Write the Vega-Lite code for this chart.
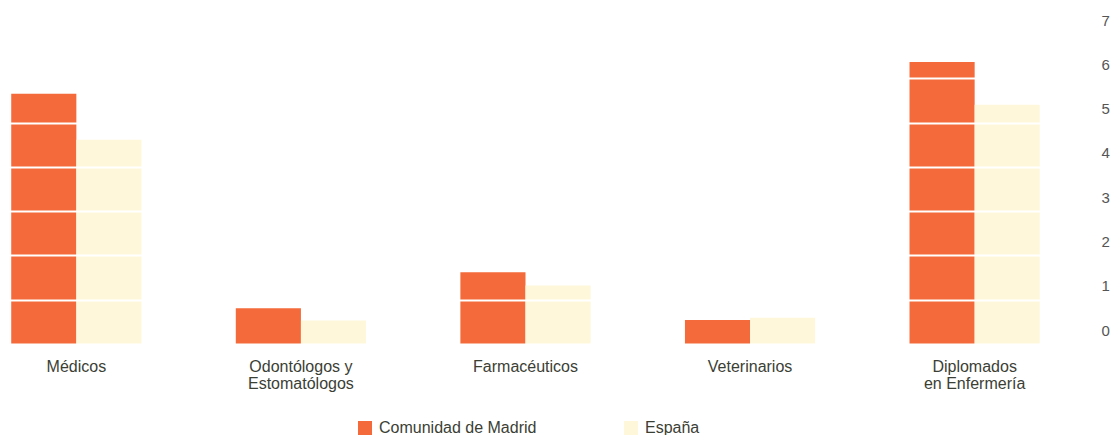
{
  "$schema": "https://vega.github.io/schema/vega-lite/v6.json",
  "autosize": {"type": "none"},
  "padding": {"left": 0, "top": 34, "right": 61, "bottom": 91},
  "width": 1051,
  "height": 310,
  "background": "white",
  "data": {
    "values": [
      {"categoria": "Médicos", "serie": "Comunidad de Madrid", "valor": 5.65},
      {"categoria": "Médicos", "serie": "España", "valor": 4.61},
      {"categoria": "Odontólogos y Estomatólogos", "serie": "Comunidad de Madrid", "valor": 0.81},
      {"categoria": "Odontólogos y Estomatólogos", "serie": "España", "valor": 0.53},
      {"categoria": "Farmacéuticos", "serie": "Comunidad de Madrid", "valor": 1.62},
      {"categoria": "Farmacéuticos", "serie": "España", "valor": 1.32},
      {"categoria": "Veterinarios", "serie": "Comunidad de Madrid", "valor": 0.54},
      {"categoria": "Veterinarios", "serie": "España", "valor": 0.59},
      {"categoria": "Diplomados en Enfermería", "serie": "Comunidad de Madrid", "valor": 6.37},
      {"categoria": "Diplomados en Enfermería", "serie": "España", "valor": 5.4}
    ]
  },
  "mark": {"type": "bar"},
  "encoding": {
    "x": {
      "field": "categoria",
      "type": "nominal",
      "sort": null,
      "scale": {"paddingInner": 0.42, "paddingOuter": 0.05},
      "axis": {
        "title": null,
        "domain": false,
        "ticks": false,
        "labelAngle": 0,
        "labelPadding": 14,
        "labelFont": "Liberation Sans",
        "labelFontSize": 16,
        "labelColor": "#3b4035",
        "labelLineHeight": 17,
        "labelBaseline": "top",
        "labelLimit": 300,
        "labelExpr": "datum.value == 'Odontólogos y Estomatólogos' ? ['Odontólogos y', 'Estomatólogos'] : datum.value == 'Diplomados en Enfermería' ? ['Diplomados', 'en Enfermería'] : datum.value"
      }
    },
    "xOffset": {"field": "serie", "type": "nominal", "sort": ["Comunidad de Madrid", "España"]},
    "y": {
      "field": "valor",
      "type": "quantitative",
      "scale": {"domain": [0, 7], "nice": false},
      "axis": {
        "title": null,
        "orient": "right",
        "values": [0, 1, 2, 3, 4, 5, 6, 7],
        "domain": false,
        "ticks": false,
        "grid": true,
        "gridColor": "white",
        "gridWidth": 2,
        "gridOpacity": 1,
        "zindex": 1,
        "labelPadding": 50,
        "labelOffset": -14,
        "labelFont": "Liberation Sans",
        "labelFontSize": 15,
        "labelColor": "#555555"
      }
    },
    "color": {
      "field": "serie",
      "type": "nominal",
      "scale": {"domain": ["Comunidad de Madrid", "España"], "range": ["#F46A3A", "#FEF7DA"]},
      "legend": {
        "title": null,
        "orient": "none",
        "direction": "horizontal",
        "legendX": 357,
        "legendY": 386,
        "symbolType": "square",
        "symbolSize": 196,
        "symbolStrokeWidth": 0,
        "labelFont": "Liberation Sans",
        "labelFontSize": 16,
        "labelColor": "#3b4035",
        "labelOffset": 6,
        "columnPadding": 86,
        "labelLimit": 300
      }
    }
  },
  "config": {"view": {"stroke": null}}
}
